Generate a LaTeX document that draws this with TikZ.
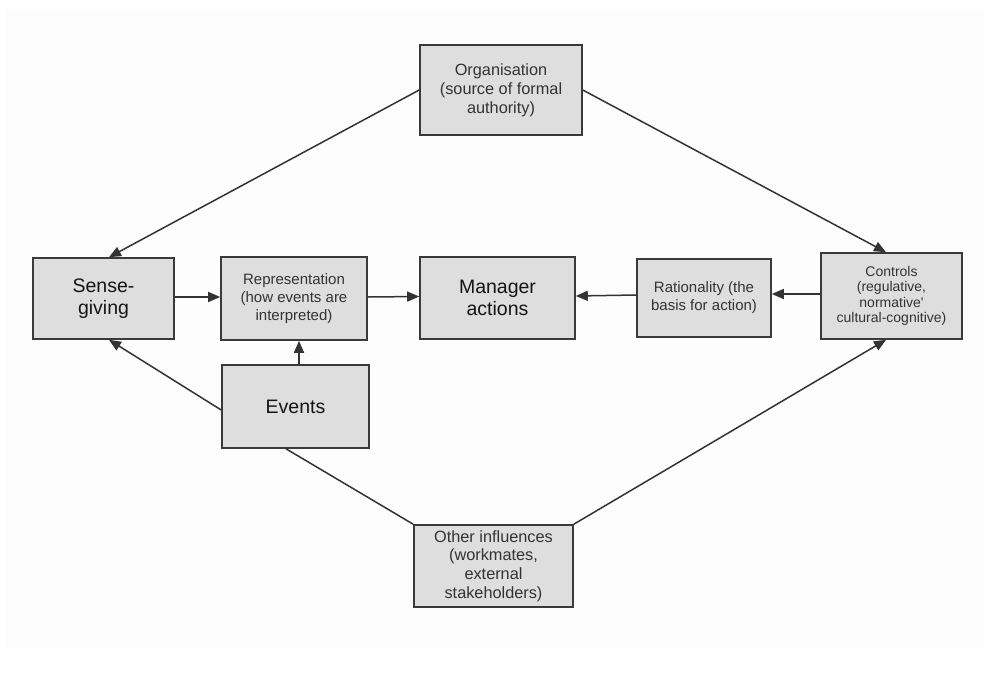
\documentclass[tikz,border=0pt]{standalone}
\usepackage{fontspec}
\setmainfont[Ligatures=TeXOff]{Liberation Sans}
\usetikzlibrary{arrows.meta,calc}

\definecolor{boxfill}{HTML}{DEDEDE}
\definecolor{edgegray}{HTML}{3A3A3A}
\definecolor{linegray}{HTML}{333333}
\definecolor{txtgray}{HTML}{333333}
\definecolor{paper}{HTML}{FDFDFD}

\begin{document}
\begin{tikzpicture}[x=1pt,y=-1pt,
  box/.style={draw=edgegray, line width=1.6pt, fill=boxfill, inner sep=0pt,
              align=center, text=txtgray},
  big/.style={font=\fontsize{19.5}{22}\selectfont, text=black!92},
  med/.style={font=\fontsize{16.3}{18.8}\selectfont},
  sml/.style={font=\fontsize{15}{18}\selectfont},
  tiny/.style={font=\fontsize{14}{15.5}\selectfont},
  link/.style={draw=linegray, line width=1.5pt},
  arr/.style={link, -{Triangle[length=12pt,width=10pt]}}
]
% page with its faint off-white panel
\fill[white] (0,0) rectangle (992,672);
\fill[paper] (5,9) rectangle (984,648);
\useasboundingbox (0,0) rectangle (992,672);

% boxes
\node[box, med, minimum width=162pt, minimum height=90pt] (org) at (501,90)
  {Organisation\\(source of formal\\authority)};
\node[box, big, minimum width=141pt, minimum height=81pt] (sense) at (103.5,298.5)
  {Sense-\\giving};
\node[box, sml, minimum width=146pt, minimum height=83pt] (rep) at (294,298.5)
  {Representation\\(how events are\\interpreted)};
\node[box, big, minimum width=155pt, minimum height=82pt] (mgr) at (497.5,298)
  {Manager\\actions};
\node[box, sml, minimum width=134pt, minimum height=78pt] (rat) at (704,298)
  {Rationality (the\\basis for action)};
\node[box, tiny, minimum width=141pt, minimum height=86pt] (ctl) at (891.5,296)
  {Controls\\(regulative,\\normative'\\cultural-cognitive)};
\node[box, big, minimum width=147pt, minimum height=83pt] (events) at (295.5,406.5)
  {Events};
\node[box, med, minimum width=159pt, minimum height=82pt] (other) at (493.5,566)
  {Other influences\\(workmates,\\external\\stakeholders)};

% connectors
\draw[arr] (org.west) -- ($(sense.north)+(5.5,0)$);
\draw[arr] (org.east) -- ($(ctl.north)+(-5.5,0)$);
\draw[arr] ($(sense.east)+(0,-1.5)$) -- ($(rep.west)+(0,-1.5)$);
\draw[arr] ($(rep.east)+(0,-1.5)$) -- ($(mgr.west)+(0,-1.5)$);
\draw[arr] ($(rat.west)+(0,-3)$) -- ($(mgr.east)+(0,-2)$);
\draw[arr] ($(ctl.west)+(0,-2)$) -- ($(rat.east)+(0,-4)$);
\draw[arr] ($(events.north)+(3.5,0)$) -- ($(rep.south)+(5,0)$);
\draw[arr] ($(events.west)+(0,3.5)$) -- ($(sense.south)+(5.5,0)$);
\draw[link] ($(events.south)+(-9.5,0)$) -- (other.north west);
\draw[arr] (other.north east) -- ($(ctl.south)+(-5.5,0)$);
\end{tikzpicture}
\end{document}
